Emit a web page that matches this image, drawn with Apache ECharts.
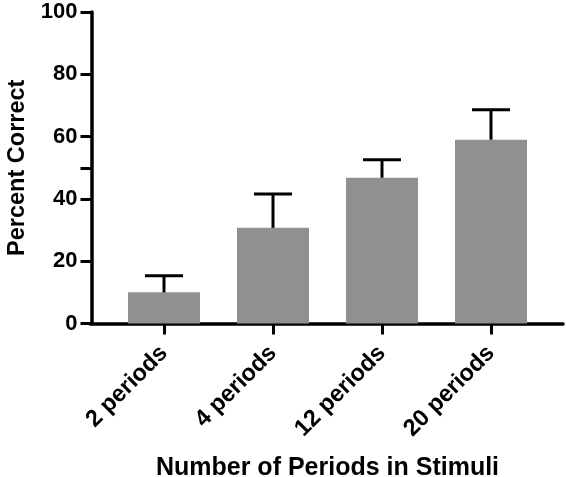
<!DOCTYPE html>
<html>
<head>
<meta charset="utf-8">
<script src="https://cdn.jsdelivr.net/npm/echarts@6/dist/echarts.min.js"></script>
<style>html,body{margin:0;padding:0;background:#fff}#c{width:566px;height:477px}</style>
</head>
<body>
<div id="c"></div>
<script>
const categories = ['2 periods', '4 periods', '12 periods', '20 periods'];
const means = [10.0, 30.7, 46.8, 59.0];
const errorTops = [15.3, 41.6, 52.6, 68.6];
const yTickValues = [0, 20, 40, 50, 60, 80, 100];
const yLabelValues = [0, 20, 40, 60, 80, 100];

const FONT = '"Liberation Sans", Arial, Helvetica, sans-serif';
const chart = echarts.init(document.getElementById('c'), null, {renderer: 'canvas'});

const errData = categories.map((c, i) => [i, means[i], errorTops[i]]);

chart.setOption({
  animation: false,
  backgroundColor: '#ffffff',
  grid: [
    {left: 109.5, right: 20.5, top: 12, bottom: 153.5, containLabel: false, outerBoundsMode: 'none'},
    {left: 90, right: 3, top: 12, bottom: 153.5, containLabel: false, outerBoundsMode: 'none'}
  ],
  xAxis: [
    {
      type: 'category',
      gridIndex: 0,
      data: categories,
      axisLine: {show: false},
      axisTick: {show: true, alignWithLabel: true, length: 11, lineStyle: {color: '#000', width: 3}},
      axisLabel: {rotate: 45, margin: 26, color: '#000', fontFamily: FONT, fontWeight: 'bold', fontSize: 23.5},
      name: 'Number of Periods in Stimuli',
      nameLocation: 'middle',
      nameGap: 132,
      nameTextStyle: {color: '#000', fontFamily: FONT, fontWeight: 'bold', fontSize: 25},
      splitLine: {show: false}
    },
    {
      type: 'value',
      gridIndex: 1,
      min: 0, max: 1,
      axisLine: {show: true, lineStyle: {color: '#000', width: 3.5}},
      axisTick: {show: false},
      axisLabel: {show: false},
      splitLine: {show: false}
    }
  ],
  yAxis: [
    {
      type: 'value',
      gridIndex: 0,
      min: 0, max: 100, interval: 20,
      offset: 18,
      axisLine: {show: true, lineStyle: {color: '#000', width: 3.5}},
      axisTick: {show: true, length: 11, customValues: yTickValues, lineStyle: {color: '#000', width: 3}},
      axisLabel: {customValues: yLabelValues, margin: 14, color: '#000', fontFamily: FONT, fontWeight: 'bold', fontSize: 22},
      splitLine: {show: false},
      name: 'Percent Correct',
      nameLocation: 'middle',
      nameGap: 56,
      nameTextStyle: {color: '#000', fontFamily: FONT, fontWeight: 'bold', fontSize: 23.5}
    },
    {type: 'value', gridIndex: 1, show: false, min: 0, max: 1}
  ],
  series: [
    {
      type: 'bar',
      xAxisIndex: 0, yAxisIndex: 0,
      data: means,
      barWidth: 72,
      itemStyle: {color: '#909090'},
      z: 2
    },
    {
      type: 'custom',
      xAxisIndex: 0, yAxisIndex: 0,
      data: errData,
      z: 3,
      renderItem: function (params, api) {
        const x = api.value(0);
        const lo = api.coord([x, api.value(1)]);
        const hi = api.coord([x, api.value(2)]);
        const half = 19;
        const style = {stroke: '#000', lineWidth: 3, fill: null};
        return {
          type: 'group',
          children: [
            {type: 'line', shape: {x1: lo[0], y1: lo[1], x2: hi[0], y2: hi[1]}, style: style},
            {type: 'line', shape: {x1: hi[0] - half, y1: hi[1], x2: hi[0] + half, y2: hi[1]}, style: style}
          ]
        };
      }
    }
  ]
});
</script>
</body>
</html>
